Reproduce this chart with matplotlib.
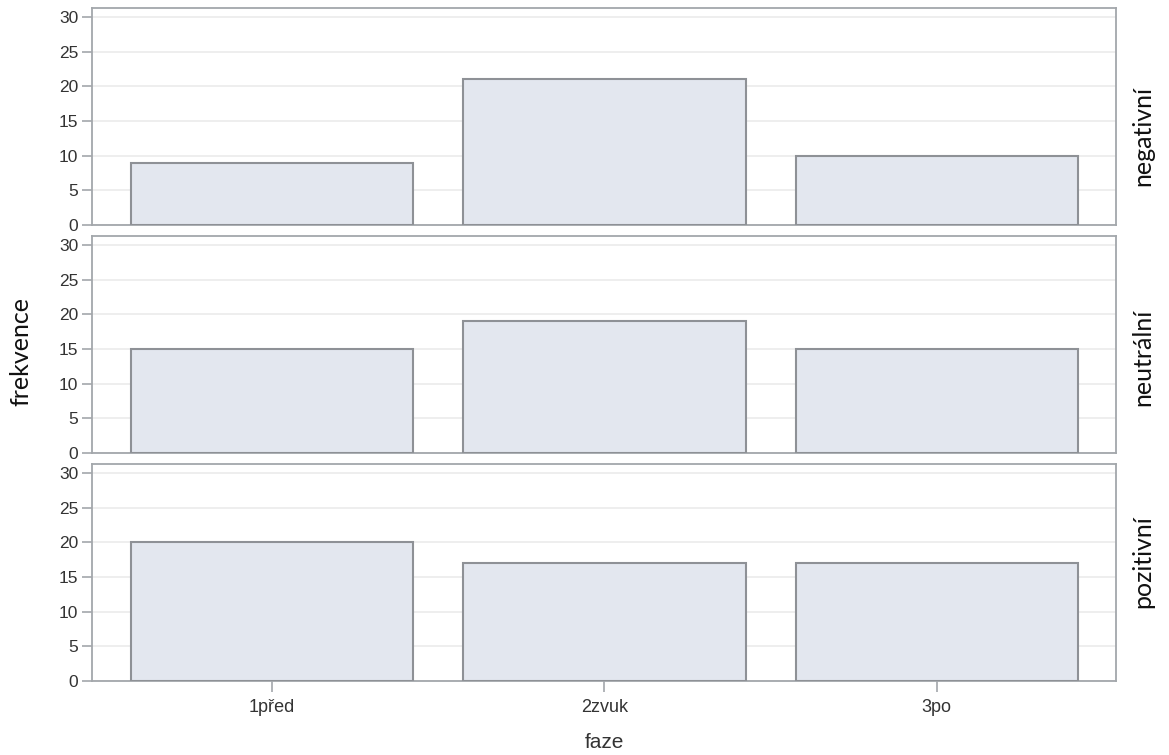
import matplotlib
matplotlib.use("Agg")
import matplotlib.pyplot as plt
import numpy as np

categories = ["1před", "2zvuk", "3po"]
panels = ["negativní", "neutrální", "pozitivní"]
values_negativni = [9, 21, 10]
values_neutralni = [15, 19, 15]
values_pozitivni = [20, 17, 17]
series = [values_negativni, values_neutralni, values_pozitivni]
yticks = [0, 5, 10, 15, 20, 25, 30]

W, H = 1169, 755
fig = plt.figure(figsize=(W / 100, H / 100), dpi=100)

left, right = 92, 1116
tops = [8, 236, 464]
bottoms = [225, 453, 681]
label_y = [0.412, 0.442, 0.548]

frame_col = "#a3a7ab"
bar_face = "#e3e7ef"
bar_edge = "#8e9196"
grid_col = "#ebebeb"
tick_font = ["Liberation Sans", "DejaVu Sans"]
label_font = ["Lato", "DejaVu Sans"]

x = np.arange(len(categories))
axes = []
for i, (vals, name) in enumerate(zip(series, panels)):
    ax = fig.add_axes([left / W, 1 - bottoms[i] / H, (right - left) / W, (bottoms[i] - tops[i]) / H])
    ax.bar(x, vals, width=0.85, color=bar_face, edgecolor=bar_edge, linewidth=1.5, zorder=3)
    ax.set_xlim(-0.541, 2.539)
    ax.set_ylim(0, 31.3)
    ax.set_yticks(yticks)
    ax.yaxis.grid(True, color=grid_col, linewidth=1.2, zorder=0)
    ax.set_axisbelow(True)
    for s in ax.spines.values():
        s.set_color(frame_col)
        s.set_linewidth(1.3)
    ax.tick_params(axis="y", colors=frame_col, labelcolor="#333333", length=7, width=1.2, pad=3, labelsize=12.5)
    for lab in ax.get_yticklabels():
        lab.set_family(tick_font)
    ax.set_xticks(x)
    if i < 2:
        ax.tick_params(axis="x", length=0, labelbottom=False)
    else:
        ax.set_xticklabels(categories, family=tick_font, fontsize=13, color="#333333")
        ax.tick_params(axis="x", colors=frame_col, labelcolor="#333333", length=8, width=1.2, pad=5)
        ax.set_xlabel("faze", family=tick_font, fontsize=15, color="#333333", labelpad=12)
    ax.text(1.0265, label_y[i], name, transform=ax.transAxes, rotation=90, va="center", ha="center",
            family=label_font, fontsize=18, color="#111111")
    axes.append(ax)

fig.text(21 / W, 1 - 352 / H, "frekvence", rotation=90, va="center", ha="center",
         family=label_font, fontsize=18, color="#111111")

fig.savefig("out.png", dpi=100)
